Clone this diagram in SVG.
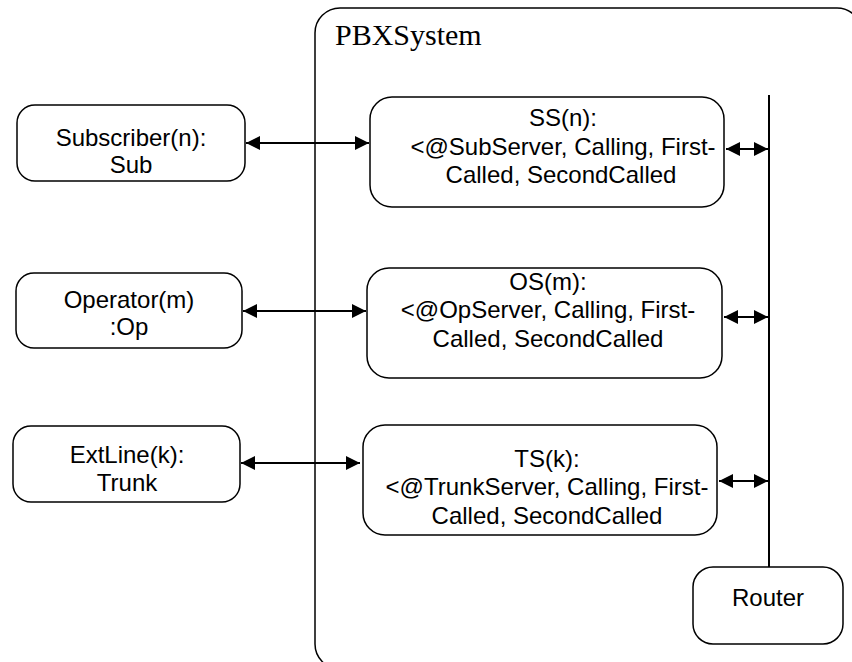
<svg xmlns="http://www.w3.org/2000/svg" width="852" height="662" viewBox="0 0 852 662">
<defs>
<style>
.box{fill:#fff;stroke:#000;stroke-width:1.5}
.lbl{font-family:"Liberation Sans",Arial,sans-serif;font-size:24px;fill:#000;text-anchor:middle}
.ttl{font-family:"Liberation Serif","Times New Roman",serif;font-size:30px;fill:#000}
.conn{stroke:#000;stroke-width:2;fill:none}
</style>
<marker id="ah" viewBox="0 0 14 14" refX="14" refY="7" markerWidth="14" markerHeight="14" markerUnits="userSpaceOnUse" orient="auto-start-reverse">
<path d="M0,0 L14,7 L0,14 Z" fill="#000"/>
</marker>
</defs>
<rect width="852" height="662" fill="#fff"/>
<g id="PBXSystem">
<rect x="315" y="8" width="547" height="661" rx="25" ry="25" class="box"/>
<text x="335" y="45" class="ttl">PBXSystem</text>
</g>
<g id="Subscriber">
<rect x="17" y="105" width="228" height="76" rx="18" ry="18" class="box"/>
<text class="lbl"><tspan x="131" y="146">Subscriber(n):</tspan><tspan x="131" y="173">Sub</tspan></text>
</g>
<g id="Operator">
<rect x="16" y="273" width="226" height="75" rx="18" ry="18" class="box"/>
<text class="lbl"><tspan x="129" y="308">Operator(m)</tspan><tspan x="129" y="335">:Op</tspan></text>
</g>
<g id="ExtLine">
<rect x="13" y="426" width="227" height="76" rx="18" ry="18" class="box"/>
<text class="lbl"><tspan x="127" y="463">ExtLine(k):</tspan><tspan x="127" y="491">Trunk</tspan></text>
</g>
<g id="SS">
<rect x="370" y="97" width="354" height="110" rx="22" ry="22" class="box"/>
<text class="lbl"><tspan x="563" y="126">SS(n):</tspan><tspan x="563" y="155">&lt;@SubServer, Calling, First-</tspan><tspan x="561" y="183">Called, SecondCalled</tspan></text>
</g>
<g id="OS">
<rect x="367" y="268" width="355" height="110" rx="22" ry="22" class="box"/>
<text class="lbl"><tspan x="548" y="290">OS(m):</tspan><tspan x="548" y="318">&lt;@OpServer, Calling, First-</tspan><tspan x="548" y="347">Called, SecondCalled</tspan></text>
</g>
<g id="TS">
<rect x="363" y="425" width="354" height="110" rx="22" ry="22" class="box"/>
<text class="lbl"><tspan x="547" y="467">TS(k):</tspan><tspan x="547" y="495">&lt;@TrunkServer, Calling, First-</tspan><tspan x="547" y="524">Called, SecondCalled</tspan></text>
</g>
<g id="Router">
<rect x="693" y="567" width="150" height="77" rx="20" ry="20" class="box"/>
<text x="768" y="606" class="lbl">Router</text>
</g>
<g id="connectors">
<line x1="769" y1="95" x2="769" y2="567" class="conn"/>
<line x1="246" y1="143" x2="369" y2="143" class="conn" marker-start="url(#ah)" marker-end="url(#ah)"/>
<line x1="243" y1="311" x2="366" y2="311" class="conn" marker-start="url(#ah)" marker-end="url(#ah)"/>
<line x1="241" y1="463" x2="360" y2="463" class="conn" marker-start="url(#ah)" marker-end="url(#ah)"/>
<line x1="726" y1="149" x2="768" y2="149" class="conn" marker-start="url(#ah)" marker-end="url(#ah)"/>
<line x1="724" y1="317" x2="768" y2="317" class="conn" marker-start="url(#ah)" marker-end="url(#ah)"/>
<line x1="719" y1="481" x2="768" y2="481" class="conn" marker-start="url(#ah)" marker-end="url(#ah)"/>
</g>
</svg>
